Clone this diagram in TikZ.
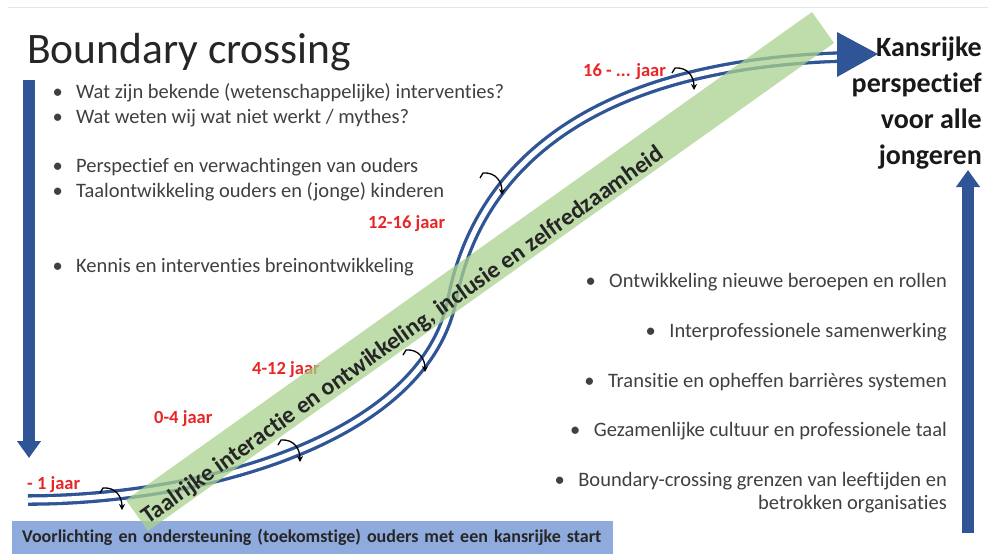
\documentclass[tikz,border=0pt]{standalone}
\usepackage{fontspec}
\setmainfont{Carlito}[Ligatures=CommonOff]
\usepackage{tikz}
\usetikzlibrary{arrows.meta,calc}
\definecolor{slideblue}{RGB}{47,85,151}
\definecolor{boxblue}{RGB}{143,170,220}
\definecolor{bandgreen}{RGB}{169,209,142}
\definecolor{agered}{RGB}{232,38,38}
\definecolor{textgray}{RGB}{64,64,64}

\begin{document}
\begin{tikzpicture}[x=1pt,y=-1pt,
	pathline/.style={draw=slideblue,line width=3.3pt,double=white,double distance=5pt},
	bigarrow/.style={draw=slideblue,line width=12pt,-{Triangle[length=17pt,width=23pt]}},
	curly/.style={black,line width=1.3pt,-{Stealth[length=6pt,width=6pt]}},
	item/.style={inner sep=0pt,font=\fontsize{20.5}{24}\selectfont,text=textgray},
	age/.style={inner sep=0pt,anchor=base west,font=\fontsize{18.5}{22}\selectfont\bfseries,text=agered}]
		\useasboundingbox (0,0) rectangle (988,558);
		\draw[black!10,line width=0.8pt] (8,7) -- (988,7);
		%
		\node[anchor=base west,inner sep=0pt,font=\fontsize{43.5}{50}\selectfont,text=black!85] (title) at (27,63) {Boundary crossing};
		%
		\coordinate (la1) at (29,80);
		\coordinate (la2) at (29,458);
		\coordinate (ra1) at (968,533);
		\coordinate (ra2) at (968,170);
		\draw[bigarrow] (la1) -- (la2);
		\draw[bigarrow] (ra1) -- (ra2);
		%
		\node[item,anchor=base west] (l1) at (76,98) {Wat zijn bekende (wetenschappelijke) interventies?};
		\node[item,anchor=base west] (l2) at (76,123) {Wat weten wij wat niet werkt / mythes?};
		\node[item,anchor=base west] (l3) at (76,172) {Perspectief en verwachtingen van ouders};
		\node[item,anchor=base west] (l4) at (76,197) {Taalontwikkeling ouders en (jonge) kinderen};
		\node[item,anchor=base west] (l5) at (76,272) {Kennis en interventies breinontwikkeling};
		%
		\node[item,anchor=base east] (r1) at (947,287) {Ontwikkeling nieuwe beroepen en rollen};
		\node[item,anchor=base east] (r2) at (947,337) {Interprofessionele samenwerking};
		\node[item,anchor=base east] (r3) at (947,387) {Transitie en opheffen barrières systemen};
		\node[item,anchor=base east] (r4) at (947,436) {Gezamenlijke cultuur en professionele taal};
		\node[item,anchor=base east] (r5) at (947,486) {Boundary-crossing grenzen van leeftijden en};
		\node[item,anchor=base east] (r5b) at (947,509) {betrokken organisaties};
		\foreach \n in {l1,l2,l3,l4,l5,r1,r2,r3,r4,r5}
			\node[item,anchor=base east] (b\n) at ([xshift=-13pt]\n.base west) {•};
		%
		\node[anchor=north east,align=right,inner sep=0pt,font=\fontsize{28}{36}\selectfont\bfseries,text=black!90] (goal) at (982,37) {Kansrijke\\perspectief\\voor alle\\jongeren};
		%
		\node[fill=boxblue,anchor=north west,minimum width=601pt,minimum height=33pt,text width=581pt,inner xsep=10pt,inner ysep=0pt,align=left,font=\fontsize{18}{21}\selectfont\bfseries,text=black!85] (startbox) at (12,521) {Voorlichting en ondersteuning (toekomstige) ouders met een kansrijke start};
		%
		\coordinate (s0) at (28,500);
		\coordinate (s1) at (200,500);
		\coordinate (s2) at (424,440);
		\coordinate (sm) at (452,300);
		\coordinate (s3) at (470,205);
		\coordinate (s4) at (545,66);
		\coordinate (s5) at (842,57);
		\draw[pathline] (s0) .. controls (s1) and (s2) .. (sm) .. controls (s3) and (s4) .. (s5);
		\coordinate (h1) at (837,32);
		\coordinate (h2) at (878,54);
		\coordinate (h3) at (837,77);
		\fill[slideblue] (h1) -- (h2) -- (h3) -- cycle;
		%
		\coordinate (c1) at (100,485);
		\coordinate (c2) at (278,437);
		\coordinate (c3) at (403,347);
		\coordinate (c4) at (480,170);
		\coordinate (c5) at (672,65);
		\foreach \c in {c1,c2,c3,c4,c5}
			\draw[curly] ($(\c)+(0,8)$) -- ++(3,-5) .. controls +(13,-1) and +(0,-13) .. ++(19,22);
		%
		\node[age] (a16) at (583,76) {16 - ... jaar};
		\node[age] (a12) at (368,228) {12-16 jaar};
		\node[age] (a4) at (252,374) {4-12 jaar};
		\node[age] (a0) at (154,423) {0-4 jaar};
		\node[age] (am1) at (27,489) {- 1 jaar};
		%
		\coordinate (g1) at (126,500);
		\coordinate (g2) at (148,531);
		\coordinate (g3) at (834,43);
		\coordinate (g4) at (812,12);
		\fill[bandgreen,fill opacity=0.75] (g1) -- (g2) -- (g3) -- (g4) -- cycle;
		\node[rotate=35.4,inner sep=0pt,font=\fontsize{24}{27}\selectfont\bfseries,text=black!85] (bandtext) at (403,336) {Taalrijke interactie en ontwikkeling, inclusie en zelfredzaamheid};
\end{tikzpicture}
\end{document}
